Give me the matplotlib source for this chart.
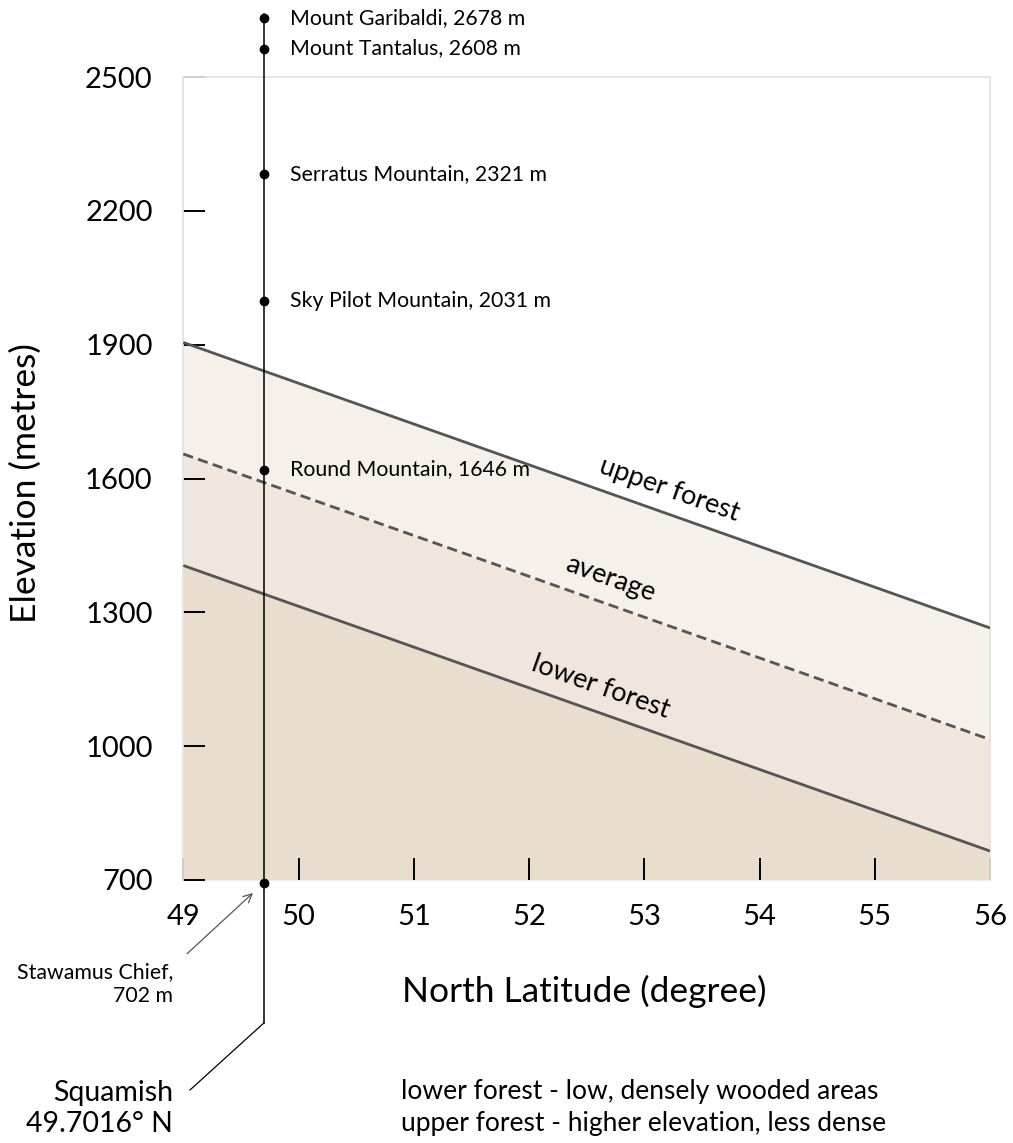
import numpy as np
import matplotlib
matplotlib.use("Agg")
import matplotlib.pyplot as plt

plt.rcParams['font.family'] = ['Lato', 'DejaVu Sans']

# ---- data ----
lat_range = [49, 56]
upper_forest = [1905, 1265]
average = [1655, 1015]
lower_forest = [1405, 765]

x_ticks = [49, 50, 51, 52, 53, 54, 55, 56]
y_ticks = [700, 1000, 1300, 1600, 1900, 2200, 2500]

squamish_lat = 49.7016
peak_names = ["Mount Garibaldi", "Mount Tantalus", "Serratus Mountain",
              "Sky Pilot Mountain", "Round Mountain"]
peak_elev = [2678, 2608, 2321, 2031, 1646]
chief_name = "Stawamus Chief"
chief_elev = 702

# ---- styles ----
c_low = "#e9ddcd"
c_mid = "#f0e6dd"
c_up = "#f6f0ea"
c_line = "#555555"
c_spine = "#e3e3e3"

fig = plt.figure(figsize=(10.13, 11.43), dpi=100)
ax = fig.add_axes([183.3/1013, 1-880/1143, (990-183.3)/1013, (880-77)/1143])
ax.set_xlim(49, 56)
ax.set_ylim(700, 2500)

x = np.array(lat_range)
ax.fill_between(x, 700, lower_forest, color=c_low, lw=0, zorder=1)
ax.fill_between(x, lower_forest, average, color=c_mid, lw=0, zorder=1)
ax.fill_between(x, average, upper_forest, color=c_up, lw=0, zorder=1)
ax.plot(x, upper_forest, color=c_line, lw=2.0, zorder=3, solid_capstyle='butt')
ax.plot(x, lower_forest, color=c_line, lw=2.0, zorder=3, solid_capstyle='butt')
ax.plot(x, average, color=c_line, lw=2.0, ls=(0, (3.7, 1.9)), zorder=3)

for s in ax.spines.values():
    s.set_color(c_spine)
    s.set_linewidth(1.3)
ax.spines['bottom'].set_visible(False)

ax.set_xticks(x_ticks)
ax.set_yticks(y_ticks)
ax.tick_params(axis='both', direction='in', length=16, width=1.4, color='black',
               labelsize=21)
ax.tick_params(axis='x', pad=17)
ax.tick_params(axis='y', pad=22)
ax.set_xlabel("North Latitude (degree)", fontsize=25.5)
ax.xaxis.set_label_coords((584-183.3)/(990-183.3), -(975-880)/(880-77))
ax.set_ylabel("Elevation (metres)", fontsize=25.5)
ax.yaxis.set_label_coords(-(183.3-42)/(990-183.3), (880-483)/(880-77))

# line labels, rotated along slope
def slope_angle(y0, y1):
    p0 = ax.transData.transform((x[0], y0))
    p1 = ax.transData.transform((x[1], y1))
    return np.degrees(np.arctan2(p1[1]-p0[1], p1[0]-p0[0]))

for name, ys, xl, off in [("upper forest", upper_forest, 53.15, 23),
                          ("average", average, 52.63, 25),
                          ("lower forest", lower_forest, 52.55, 25)]:
    ang = slope_angle(*ys)
    yl = np.interp(xl, x, ys)
    th = np.radians(ang)
    dx, dy = -np.sin(th)*off/1.389, np.cos(th)*off/1.389
    ax.annotate(name, (xl, yl), xytext=(dx, dy), textcoords='offset points',
                rotation=ang, rotation_mode='anchor', ha='center', va='center',
                fontsize=19.5, zorder=4)

# peaks: drawn on a secondary elevation scale (as in the reference graphic)
ax2 = ax.twinx()
ax2.set_ylim(708, 2543)
ax2.axis('off')
ax2.set_xlim(49, 56)

top_y = max(peak_elev) + 8
ax2.plot([squamish_lat, squamish_lat], [top_y, chief_elev], color='black', lw=1.1,
         clip_on=False, zorder=5)
ax2.plot([squamish_lat]*(len(peak_elev)+1), peak_elev + [chief_elev], 'o',
         color='black', ms=6, clip_on=False, zorder=6)
for n, e in zip(peak_names, peak_elev):
    ax2.annotate(f"{n}, {e} m", (squamish_lat, e), xytext=(18.5, 0),
                 textcoords='offset points', va='center', ha='left', fontsize=15.3,
                 annotation_clip=False)

# line down to Squamish label
xd = ax.transData.transform((squamish_lat, 700))[0]
fx = xd / 1013
fig.add_artist(plt.Line2D([fx, fx], [1-880/1143, 1-1022.7/1143], color='black', lw=1.1))
fig.add_artist(plt.Line2D([fx, 190/1013], [1-1022.7/1143, 1-1090/1143], color='black', lw=0.9))
fig.text(173/1013, 1-1108.5/1143, f"Squamish\n{squamish_lat}° N", ha='right', va='center',
         fontsize=20.5, linespacing=1.22)

# Stawamus Chief annotation
ax2.annotate(f"{chief_name},\n{chief_elev} m", (squamish_lat, chief_elev),
             xytext=(173/1013, 1-984/1143), textcoords='figure fraction',
             ha='right', va='center', fontsize=15.3, linespacing=1.2,
             annotation_clip=False,
             arrowprops=dict(arrowstyle='->', color='#555555', lw=0.9,
                             shrinkA=0, shrinkB=11,
                             relpos=(1.09, 1.2)))

fig.text(401/1013, 1-1107.5/1143,
         "lower forest - low, densely wooded areas\nupper forest - higher elevation, less dense",
         ha='left', va='center', fontsize=19, linespacing=1.3)

fig.savefig("out.png", dpi=100)
